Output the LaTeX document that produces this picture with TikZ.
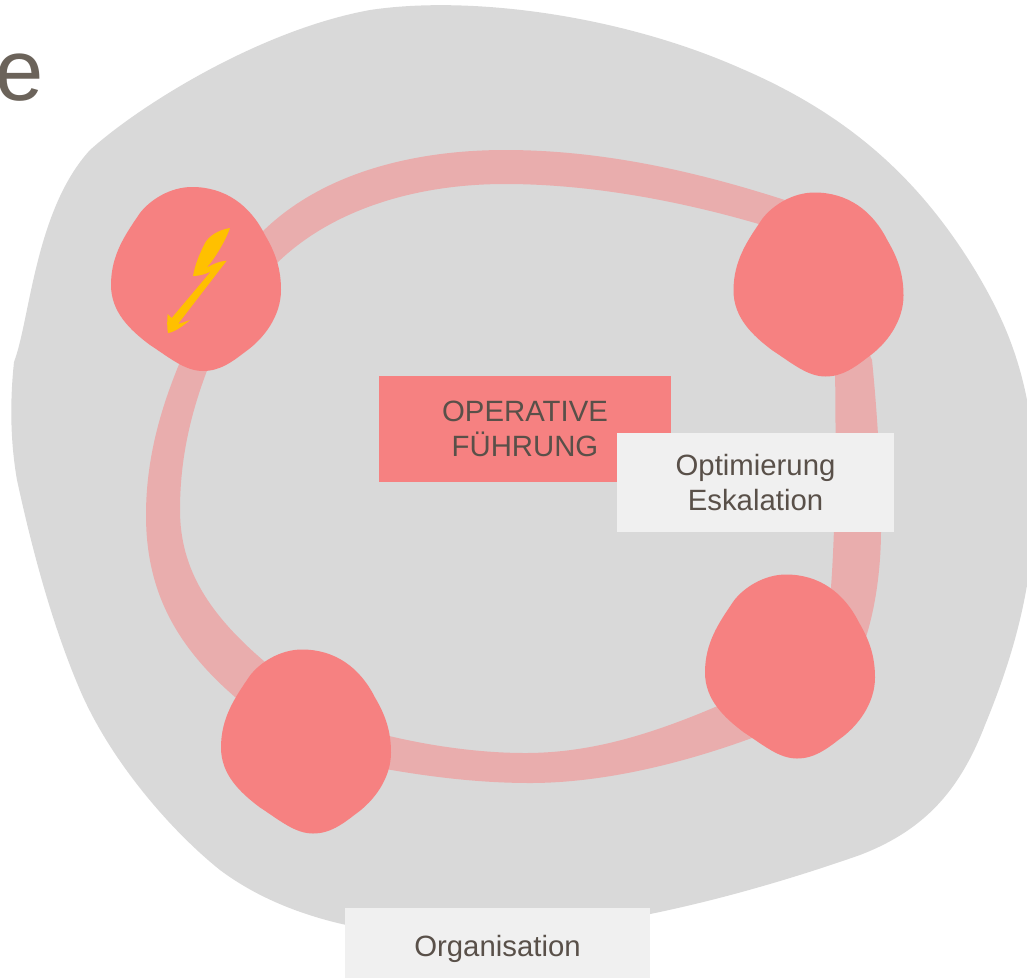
\documentclass[tikz,border=0pt]{standalone}
\usepackage{fontspec}
\setmainfont{Liberation Sans}
\definecolor{blobgray}{HTML}{D9D9D9}
\definecolor{ringred}{HTML}{E9ADAD}
\definecolor{stationred}{HTML}{F68181}
\definecolor{boxgray}{HTML}{F0F0F0}
\definecolor{boxtext}{HTML}{595049}
\definecolor{headtext}{HTML}{6B635A}
\definecolor{boltyellow}{HTML}{FFC000}
\tikzset{
	labelbox/.style={inner sep=0pt,align=center,text=boxtext,font=\fontsize{22}{26}\selectfont},
}
\newcommand{\stationblob}{(192,187) .. controls (225,187) and (250,205) .. (265,235) .. controls (275,252) and (281,268) .. (281,290) .. controls (281,315) and (265,338) .. (245,352) .. controls (232,362) and (220,371) .. (203,371) .. controls (185,371) and (170,358) .. (150,345) .. controls (130,330) and (111,312) .. (111,285) .. controls (111,255) and (125,235) .. (140,213) .. controls (150,200) and (170,187) .. (192,187) -- cycle}
\begin{document}
\begin{tikzpicture}[x=0.75pt,y=0.75pt,yscale=-1,xscale=1]
	\useasboundingbox (0,0) rectangle (1027,978);
	\begin{scope}
		\clip (0,0) rectangle (1027,978);
		\node (head) [anchor=base east,text=headtext,font=\fontsize{65}{70}\selectfont,inner sep=0pt] at (44,100) {e};
		\fill[blobgray] (14,362) .. controls (30,320) and (35,210) .. (90,150) .. controls (140,105) and (260,30) .. (370,10) .. controls (470,-5) and (620,15) .. (740,68) .. controls (850,115) and (920,180) .. (975,270) .. controls (1005,320) and (1027,370) .. (1034,450) .. controls (1040,560) and (1020,640) .. (985,725) .. controls (960,790) and (925,830) .. (860,855) .. controls (760,890) and (620,930) .. (480,936) .. controls (370,940) and (280,915) .. (220,870) .. controls (170,830) and (110,760) .. (80,690) .. controls (50,620) and (30,540) .. (17,480) .. controls (10,440) and (10,400) .. (14,362) -- cycle;
	\end{scope}
	\fill[ringred,even odd rule] (250,245) .. controls (310,175) and (410,150) .. (505,150) .. controls (610,150) and (710,175) .. (800,205) -- (872,360) .. controls (877,410) and (881,470) .. (881,530) .. controls (881,570) and (875,610) .. (865,640) -- (760,735) .. controls (680,765) and (600,783) .. (530,783) .. controls (480,783) and (430,777) .. (380,768) -- (235,697) .. controls (175,645) and (146,590) .. (146,515) .. controls (146,460) and (160,410) .. (180,362) -- cycle
		(275,265) .. controls (330,210) and (415,184) .. (505,184) .. controls (600,184) and (700,205) .. (785,232) -- (835,370) .. controls (836,430) and (836,530) .. (830,600) -- (720,705) .. controls (650,735) and (590,753) .. (525,753) .. controls (480,753) and (430,746) .. (385,735) -- (265,662) .. controls (210,615) and (180,570) .. (180,510) .. controls (180,460) and (190,415) .. (208,368) -- cycle;
	\foreach \dx/\dy in {0/0,622.5/5.5,594/387.5,110/462.5}
	{
		\fill[stationred,shift={(\dx,\dy)}] \stationblob;
	}
	\fill[boltyellow] (230,228) .. controls (218,230) and (209,236) .. (205,243) .. controls (199,255) and (195,265) .. (193,276) .. controls (200,276) and (205,274) .. (210.7,271.7) -- (171.7,318) -- (167.7,314) .. controls (167,320) and (167,328) .. (168,333) .. controls (175,332) and (183,326) .. (190,320) .. controls (185,322) and (181,323) .. (178,324) -- (226.7,260.7) .. controls (220,261) and (213,264) .. (206.7,267.7) .. controls (215,258) and (225,242) .. (230,228) -- cycle;
	\node (fuehrung) [labelbox,fill=stationred,minimum width=219pt,minimum height=79.5pt] at (525,429) {OPERATIVE\\FÜHRUNG};
	\node (optimierung) [labelbox,fill=boxgray,minimum width=207.75pt,minimum height=74.25pt] at (755.5,482.5) {Optimierung\\Eskalation};
	\node (organisation) [labelbox,fill=boxgray,minimum width=228.75pt,minimum height=52.5pt,text height=22pt,text depth=2pt] at (497.5,943) {Organisation};
\end{tikzpicture}
\end{document}
